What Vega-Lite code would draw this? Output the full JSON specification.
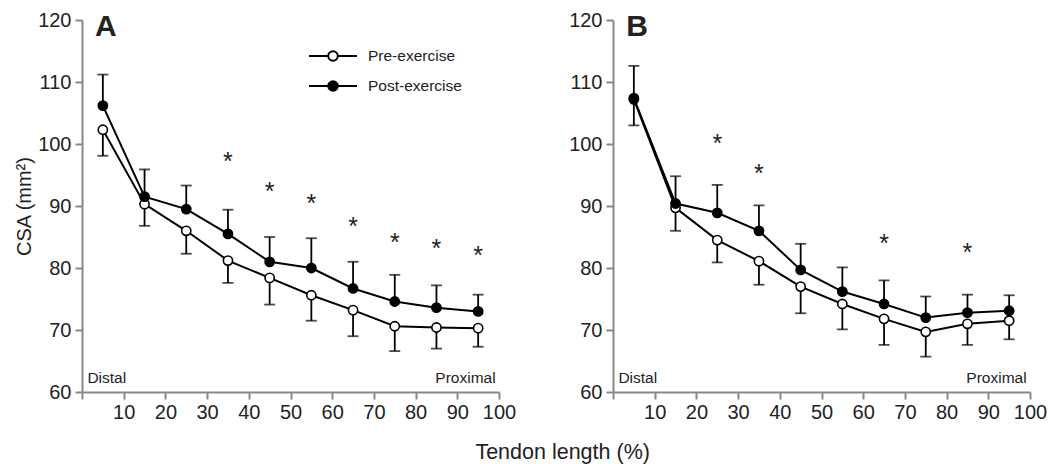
{
  "$schema": "https://vega.github.io/schema/vega-lite/v6.json",
  "background": "white",
  "padding": {"left": 14, "top": 10, "right": 5, "bottom": 5},
  "config": {
    "view": {"stroke": null},
    "font": "Liberation Sans",
    "axis": {
      "grid": false,
      "domainColor": "#888888",
      "domainWidth": 2,
      "tickColor": "#888888",
      "tickWidth": 2,
      "tickSize": 7,
      "labelFont": "Liberation Sans",
      "labelFontSize": 20,
      "labelColor": "#222222",
      "labelOverlap": false,
      "labelFlush": false,
      "titleFont": "Liberation Sans",
      "titleFontSize": 20,
      "titleFontWeight": "normal",
      "titleColor": "#222222"
    }
  },
  "title": {
    "text": "Tendon length (%)",
    "orient": "bottom",
    "anchor": "middle",
    "font": "Liberation Sans",
    "fontSize": 21.5,
    "fontWeight": "normal",
    "color": "#222222",
    "offset": 20,
    "dx": 32
  },
  "datasets": {
    "csa": [
      {"panel": "A", "pos": 5, "series": "Pre-exercise", "csa": 102.3, "bar": 98.1},
      {"panel": "A", "pos": 15, "series": "Pre-exercise", "csa": 90.3, "bar": 86.8},
      {"panel": "A", "pos": 25, "series": "Pre-exercise", "csa": 86.0, "bar": 82.3},
      {"panel": "A", "pos": 35, "series": "Pre-exercise", "csa": 81.2, "bar": 77.6},
      {"panel": "A", "pos": 45, "series": "Pre-exercise", "csa": 78.4, "bar": 74.1},
      {"panel": "A", "pos": 55, "series": "Pre-exercise", "csa": 75.6, "bar": 71.5},
      {"panel": "A", "pos": 65, "series": "Pre-exercise", "csa": 73.2, "bar": 69.0},
      {"panel": "A", "pos": 75, "series": "Pre-exercise", "csa": 70.6, "bar": 66.6},
      {"panel": "A", "pos": 85, "series": "Pre-exercise", "csa": 70.4, "bar": 67.0},
      {"panel": "A", "pos": 95, "series": "Pre-exercise", "csa": 70.3, "bar": 67.3},
      {"panel": "A", "pos": 5, "series": "Post-exercise", "csa": 106.2, "bar": 111.2},
      {"panel": "A", "pos": 15, "series": "Post-exercise", "csa": 91.5, "bar": 95.9},
      {"panel": "A", "pos": 25, "series": "Post-exercise", "csa": 89.5, "bar": 93.3},
      {"panel": "A", "pos": 35, "series": "Post-exercise", "csa": 85.5, "bar": 89.4},
      {"panel": "A", "pos": 45, "series": "Post-exercise", "csa": 81.0, "bar": 85.0},
      {"panel": "A", "pos": 55, "series": "Post-exercise", "csa": 80.0, "bar": 84.8},
      {"panel": "A", "pos": 65, "series": "Post-exercise", "csa": 76.7, "bar": 81.0},
      {"panel": "A", "pos": 75, "series": "Post-exercise", "csa": 74.6, "bar": 78.9},
      {"panel": "A", "pos": 85, "series": "Post-exercise", "csa": 73.6, "bar": 77.2},
      {"panel": "A", "pos": 95, "series": "Post-exercise", "csa": 73.0, "bar": 75.7},
      {"panel": "B", "pos": 5, "series": "Pre-exercise", "csa": 107.2, "bar": 103.0},
      {"panel": "B", "pos": 15, "series": "Pre-exercise", "csa": 89.7, "bar": 86.0},
      {"panel": "B", "pos": 25, "series": "Pre-exercise", "csa": 84.5, "bar": 80.9},
      {"panel": "B", "pos": 35, "series": "Pre-exercise", "csa": 81.1, "bar": 77.3},
      {"panel": "B", "pos": 45, "series": "Pre-exercise", "csa": 77.0, "bar": 72.7},
      {"panel": "B", "pos": 55, "series": "Pre-exercise", "csa": 74.2, "bar": 70.1},
      {"panel": "B", "pos": 65, "series": "Pre-exercise", "csa": 71.8, "bar": 67.6},
      {"panel": "B", "pos": 75, "series": "Pre-exercise", "csa": 69.7, "bar": 65.7},
      {"panel": "B", "pos": 85, "series": "Pre-exercise", "csa": 71.0, "bar": 67.6},
      {"panel": "B", "pos": 95, "series": "Pre-exercise", "csa": 71.5, "bar": 68.5},
      {"panel": "B", "pos": 5, "series": "Post-exercise", "csa": 107.4, "bar": 112.6},
      {"panel": "B", "pos": 15, "series": "Post-exercise", "csa": 90.4, "bar": 94.8},
      {"panel": "B", "pos": 25, "series": "Post-exercise", "csa": 88.9, "bar": 93.4},
      {"panel": "B", "pos": 35, "series": "Post-exercise", "csa": 86.0, "bar": 90.1},
      {"panel": "B", "pos": 45, "series": "Post-exercise", "csa": 79.7, "bar": 83.9},
      {"panel": "B", "pos": 55, "series": "Post-exercise", "csa": 76.2, "bar": 80.1},
      {"panel": "B", "pos": 65, "series": "Post-exercise", "csa": 74.2, "bar": 78.0},
      {"panel": "B", "pos": 75, "series": "Post-exercise", "csa": 72.0, "bar": 75.4},
      {"panel": "B", "pos": 85, "series": "Post-exercise", "csa": 72.8, "bar": 75.7},
      {"panel": "B", "pos": 95, "series": "Post-exercise", "csa": 73.1, "bar": 75.6}
    ],
    "stars": [
      {"panel": "A", "pos": 35, "level": 98.0},
      {"panel": "A", "pos": 45, "level": 93.2},
      {"panel": "A", "pos": 55, "level": 91.3},
      {"panel": "A", "pos": 65, "level": 87.6},
      {"panel": "A", "pos": 75, "level": 85.0},
      {"panel": "A", "pos": 85, "level": 84.0},
      {"panel": "A", "pos": 95, "level": 82.9},
      {"panel": "B", "pos": 25, "level": 100.9},
      {"panel": "B", "pos": 35, "level": 96.2},
      {"panel": "B", "pos": 65, "level": 84.8},
      {"panel": "B", "pos": 85, "level": 83.4}
    ]
  },
  "bounds": "flush",
  "spacing": 114,
  "hconcat": [
    {
      "width": 417,
      "height": 372,
      "layer": [
        {
          "data": {"name": "csa"},
          "transform": [{"filter": "datum.panel === 'A'"}],
          "mark": {"type": "line", "color": "black", "strokeWidth": 2},
          "encoding": {
            "x": {"field": "pos", "type": "quantitative", "scale": {"domain": [0, 100], "nice": false},
                  "axis": {"values": [0, 10, 20, 30, 40, 50, 60, 70, 80, 90, 100], "labelExpr": "datum.value === 0 ? '' : datum.label", "title": null, "labelPadding": 3}},
            "y": {"field": "csa", "type": "quantitative", "scale": {"domain": [60, 120], "nice": false, "zero": false},
                  "axis": {"values": [60, 70, 80, 90, 100, 110, 120], "title": "CSA (mm²)", "titlePadding": 3, "labelPadding": 4}},
            "detail": {"field": "series"}
          }
        },
        {
          "data": {"name": "csa"},
          "transform": [{"filter": "datum.panel === 'A'"}],
          "mark": {"type": "rule", "color": "black", "strokeWidth": 1.8},
          "encoding": {
            "x": {"field": "pos", "type": "quantitative"},
            "y": {"field": "csa", "type": "quantitative"},
            "y2": {"field": "bar"}
          }
        },
        {
          "data": {"name": "csa"},
          "transform": [{"filter": "datum.panel === 'A'"}],
          "mark": {"type": "tick", "orient": "horizontal", "color": "black", "thickness": 1.8, "size": 11},
          "encoding": {
            "x": {"field": "pos", "type": "quantitative"},
            "y": {"field": "bar", "type": "quantitative"}
          }
        },
        {
          "data": {"name": "csa"},
          "transform": [{"filter": "datum.panel === 'A'"}],
          "mark": {"type": "point", "shape": "circle", "filled": true, "size": 85, "stroke": "black", "strokeWidth": 1.6, "opacity": 1},
          "encoding": {
            "x": {"field": "pos", "type": "quantitative"},
            "y": {"field": "csa", "type": "quantitative"},
            "fill": {"field": "series", "type": "nominal",
                     "scale": {"domain": ["Pre-exercise", "Post-exercise"], "range": ["white", "black"]},
                     "legend": {"title": null, "orient": "none", "legendX": 238, "legendY": 23,
                                "symbolType": "M-2,0L-0.4,0M0.4,0L2,0M-0.4,0A0.4,0.4,0,1,1,0.4,0A0.4,0.4,0,1,1,-0.4,0Z",
                                "symbolSize": 576, "symbolStrokeColor": "black", "symbolStrokeWidth": 2,
                                "labelFont": "Liberation Sans", "labelFontSize": 15.5, "labelColor": "#222222",
                                "labelOffset": 22, "rowPadding": 8}}
          }
        },
        {
          "data": {"name": "stars"},
          "transform": [{"filter": "datum.panel === 'A'"}],
          "mark": {"type": "text", "text": "*", "fontSize": 25, "color": "#222222", "baseline": "alphabetic", "dy": 14},
          "encoding": {
            "x": {"field": "pos", "type": "quantitative"},
            "y": {"field": "level", "type": "quantitative"}
          }
        },
        {
          "data": {"values": [{}]},
          "mark": {"type": "text", "text": "A", "fontSize": 30, "fontWeight": "bold", "color": "#222222", "align": "left", "baseline": "alphabetic"},
          "encoding": {"x": {"datum": 3.1}, "y": {"datum": 117.4}}
        },
        {
          "data": {"values": [{}]},
          "mark": {"type": "text", "text": "Distal", "fontSize": 15.5, "color": "#222222", "align": "left", "baseline": "alphabetic"},
          "encoding": {"x": {"datum": 1.3}, "y": {"datum": 61.5}}
        },
        {
          "data": {"values": [{}]},
          "mark": {"type": "text", "text": "Proximal", "fontSize": 15.5, "color": "#222222", "align": "right", "baseline": "alphabetic"},
          "encoding": {"x": {"datum": 99.2}, "y": {"datum": 61.5}}
        }
      ]
    },
    {
      "width": 417,
      "height": 372,
      "layer": [
        {
          "data": {"name": "csa"},
          "transform": [{"filter": "datum.panel === 'B'"}],
          "mark": {"type": "line", "color": "black", "strokeWidth": 2},
          "encoding": {
            "x": {"field": "pos", "type": "quantitative", "scale": {"domain": [0, 100], "nice": false},
                  "axis": {"values": [0, 10, 20, 30, 40, 50, 60, 70, 80, 90, 100], "labelExpr": "datum.value === 0 ? '' : datum.label", "title": null, "labelPadding": 3}},
            "y": {"field": "csa", "type": "quantitative", "scale": {"domain": [60, 120], "nice": false, "zero": false},
                  "axis": {"values": [60, 70, 80, 90, 100, 110, 120], "title": null, "labelPadding": 4}},
            "detail": {"field": "series"}
          }
        },
        {
          "data": {"name": "csa"},
          "transform": [{"filter": "datum.panel === 'B'"}],
          "mark": {"type": "rule", "color": "black", "strokeWidth": 1.8},
          "encoding": {
            "x": {"field": "pos", "type": "quantitative"},
            "y": {"field": "csa", "type": "quantitative"},
            "y2": {"field": "bar"}
          }
        },
        {
          "data": {"name": "csa"},
          "transform": [{"filter": "datum.panel === 'B'"}],
          "mark": {"type": "tick", "orient": "horizontal", "color": "black", "thickness": 1.8, "size": 11},
          "encoding": {
            "x": {"field": "pos", "type": "quantitative"},
            "y": {"field": "bar", "type": "quantitative"}
          }
        },
        {
          "data": {"name": "csa"},
          "transform": [{"filter": "datum.panel === 'B'"}],
          "mark": {"type": "point", "shape": "circle", "filled": true, "size": 85, "stroke": "black", "strokeWidth": 1.6, "opacity": 1},
          "encoding": {
            "x": {"field": "pos", "type": "quantitative"},
            "y": {"field": "csa", "type": "quantitative"},
            "fill": {"field": "series", "type": "nominal",
                     "scale": {"domain": ["Pre-exercise", "Post-exercise"], "range": ["white", "black"]},
                     "legend": null}
          }
        },
        {
          "data": {"name": "stars"},
          "transform": [{"filter": "datum.panel === 'B'"}],
          "mark": {"type": "text", "text": "*", "fontSize": 25, "color": "#222222", "baseline": "alphabetic", "dy": 14},
          "encoding": {
            "x": {"field": "pos", "type": "quantitative"},
            "y": {"field": "level", "type": "quantitative"}
          }
        },
        {
          "data": {"values": [{}]},
          "mark": {"type": "text", "text": "B", "fontSize": 30, "fontWeight": "bold", "color": "#222222", "align": "left", "baseline": "alphabetic"},
          "encoding": {"x": {"datum": 3.2}, "y": {"datum": 117.4}}
        },
        {
          "data": {"values": [{}]},
          "mark": {"type": "text", "text": "Distal", "fontSize": 15.5, "color": "#222222", "align": "left", "baseline": "alphabetic"},
          "encoding": {"x": {"datum": 1.3}, "y": {"datum": 61.5}}
        },
        {
          "data": {"values": [{}]},
          "mark": {"type": "text", "text": "Proximal", "fontSize": 15.5, "color": "#222222", "align": "right", "baseline": "alphabetic"},
          "encoding": {"x": {"datum": 99.2}, "y": {"datum": 61.5}}
        }
      ]
    }
  ],
  "resolve": {"scale": {"fill": "independent"}, "legend": {"fill": "independent"}}
}
